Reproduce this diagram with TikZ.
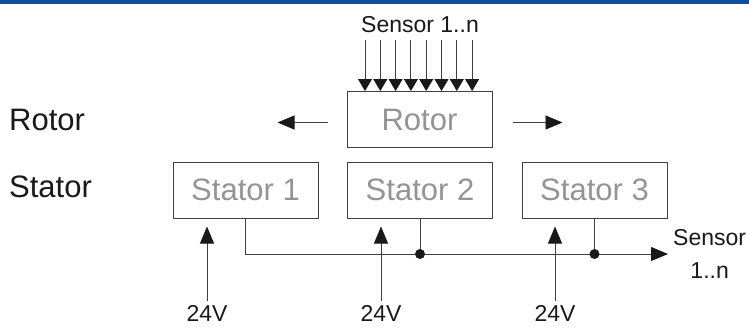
\documentclass[tikz,border=0pt]{standalone}
\usepackage{fontspec}
\setmainfont{Liberation Sans}
\usepackage{xcolor}
\usetikzlibrary{arrows.meta,positioning,calc}
\definecolor{barblue}{HTML}{0B4F9C}

\begin{document}
\begin{tikzpicture}[
    x=1pt,y=1pt,
    >={Triangle[length=17pt,width=14pt,color=black!90]},
    line/.style={draw=black!75, line width=0.9pt},
    box/.style={
        draw=black!75,
        line width=1pt,
        minimum width=145pt,
        minimum height=56pt,
        inner sep=0pt,
        text=black!42,
        font=\fontsize{31}{36}\selectfont
    },
    label/.style={font=\fontsize{31}{36}\selectfont, text=black!90, inner sep=0pt},
    small/.style={font=\fontsize{23}{33}\selectfont, text=black!90, inner sep=0pt},
    dot/.style={circle, fill=black!90, inner sep=0pt, minimum size=10pt}
]
\useasboundingbox (0,0) rectangle (749,-327);

% ===== top bar =====
\fill[barblue] (0,0) rectangle (749,-4);

% ===== geometry =====
\def\yRot{-119.5}
\def\ySta{-190}
\def\yBus{-254}
\def\yVolt{-313}

% row labels
\node[label, anchor=west] (rotorlbl) at (9,-120) {Rotor};
\node[label, anchor=west] (statorlbl) at (9,-187) {Stator};

% rotor and stator boxes
\node[box] (rotor) at (419.5,\yRot) {Rotor};
\node[box] (stator1) at (245.5,\ySta) {Stator 1};
\node[box] (stator2) at (420,\ySta) {Stator 2};
\node[box] (stator3) at (594.5,\ySta) {Stator 3};

% sensor inputs to rotor
\node[small] (sensin) at (420,-25) {Sensor 1..n};
\foreach \i in {0,...,7}{
  \coordinate (s\i) at ({365+15.3*\i},-40);
  \draw[line,-{Triangle[length=12pt,width=14pt,color=black!90]}] (s\i) -- (s\i |- rotor.north);
}

% rotor motion arrows
\coordinate (rlA) at ($(rotor.west)+(-19,-3)$);
\coordinate (rlB) at ($(rotor.west)+(-69,-3)$);
\coordinate (rrA) at ($(rotor.east)+(20,-3)$);
\coordinate (rrB) at ($(rotor.east)+(70,-3)$);
\draw[line,->] (rlA) -- (rlB);
\draw[line,->] (rrA) -- (rrB);

% supply arrows
\node[small] (volt1) at (207,\yVolt) {24V};
\node[small] (volt2) at (381,\yVolt) {24V};
\node[small] (volt3) at (555,\yVolt) {24V};
\foreach \n in {1,2,3}{
  \draw[line,->] ($(volt\n.north)+(0,4)$) -- ($(volt\n.north |- stator\n.south)+(0,-8)$);
}

% sensor bus
\coordinate (busend) at (668,\yBus);
\draw[line,->] (stator1.south) |- (busend);
\draw[line] (stator2.south) -- (stator2.south |- busend) node[dot] (dot2) {};
\draw[line] (stator3.south) -- (stator3.south |- busend) node[dot] (dot3) {};
\node[small, anchor=west, align=center] (sensout) at (673,\yBus) {Sensor\\1..n};
\end{tikzpicture}
\end{document}
